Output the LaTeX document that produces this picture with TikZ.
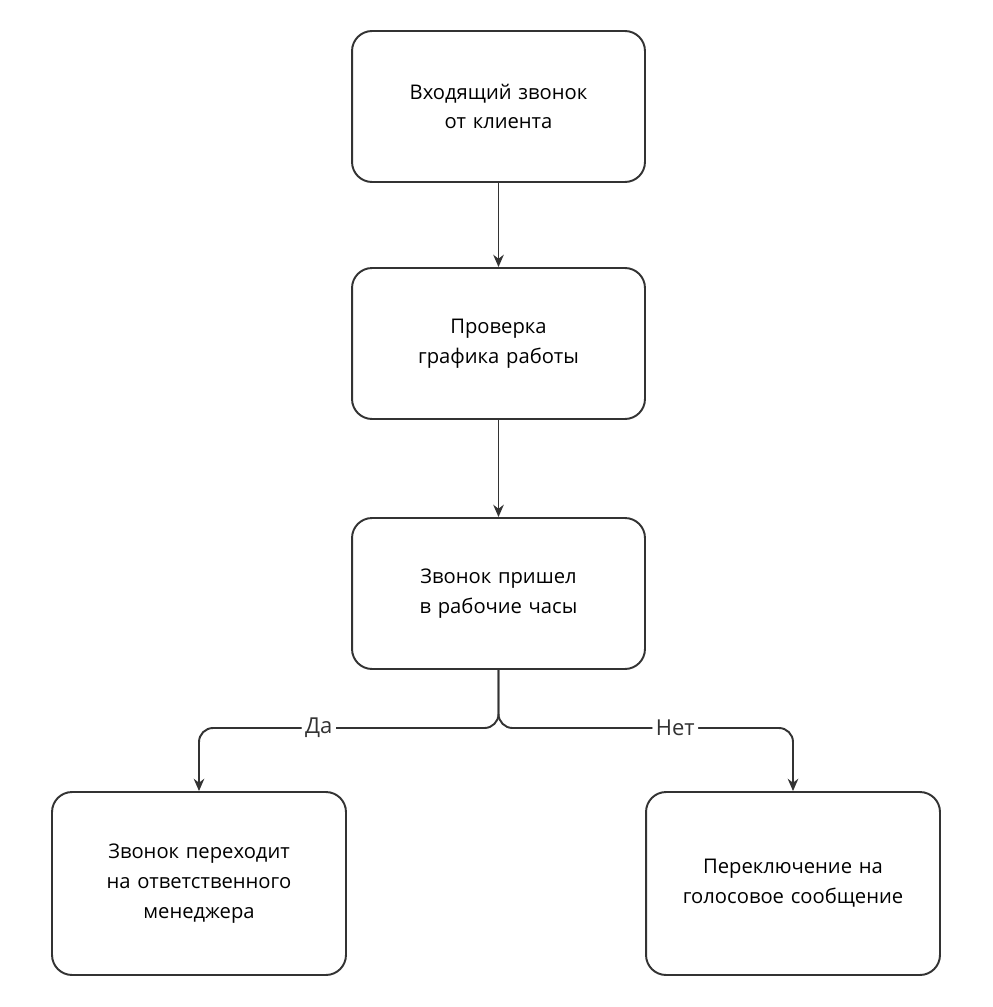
\documentclass[tikz,border=0pt]{standalone}
\usepackage{fontspec}
\setmainfont{Open Sans}
\usetikzlibrary{arrows.meta,positioning,calc}
\definecolor{linegray}{HTML}{333333}
\tikzset{
	box/.style={draw=linegray, line width=1.1pt, rounded corners=0.4cm, minimum width=5.86cm, minimum height=3.02cm, align=center, text width=5cm, font=\fontsize{11.5}{17}\selectfont},
	bigbox/.style={box, minimum width=5.88cm, minimum height=3.66cm},
	link/.style={draw=linegray, line width=1.1pt, -{Stealth[length=7pt,width=6pt]}},
	tag/.style={fill=white, inner sep=2pt, text=linegray, font=\fontsize{12.5}{15}\selectfont}
}
\begin{document}
\begin{tikzpicture}[x=0.02cm, y=-0.02cm]
		\useasboundingbox (0,0) rectangle (992,1007);
		%coordinates
		\coordinate (Ccall)  at (498.5,106.5);
		\coordinate (Ccheck) at (498.5,343.5);
		\coordinate (Chours) at (498.5,593.5);
		\coordinate (Cyes)   at (199,883.5);
		\coordinate (Cno)    at (793,883.5);
		\coordinate (split)  at (498.5,728);

		%nodes
		\node[box] (call)  at (Ccall)  {Входящий звонок от клиента};
		\node[box] (check) at (Ccheck) {Проверка графика работы};
		\node[box] (hours) at (Chours) {Звонок пришел в рабочие часы};
		\node[bigbox] (yes) at (Cyes) {Звонок переходит на ответственного менеджера};
		\node[bigbox] (no)  at (Cno)  {Переключение на голосовое сообщение};

		\draw[link] (call) -- (check);
		\draw[link] (check) -- (hours);
		\draw[link, rounded corners=8pt] (hours.south) -- (split) -| node[tag, pos=0.3]{Да} (yes.north);
		\draw[link, rounded corners=8pt] (hours.south) -- (split) -| node[tag, pos=0.3]{Нет} (no.north);
\end{tikzpicture}
\end{document}
